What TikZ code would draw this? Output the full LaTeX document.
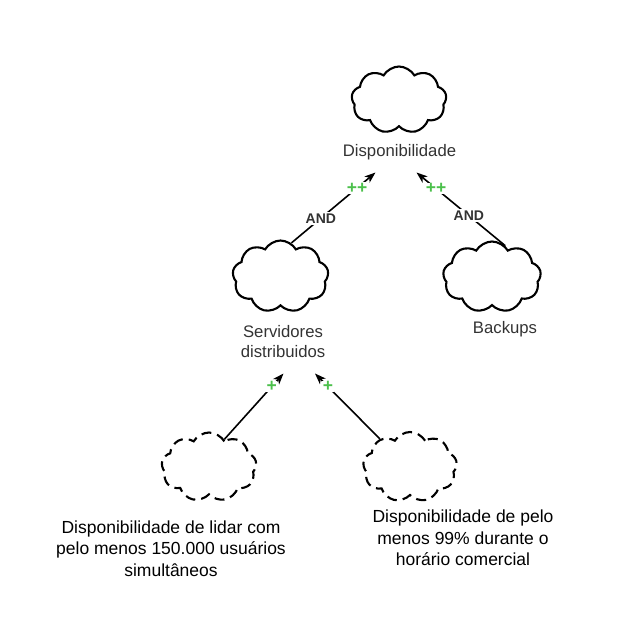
\documentclass[tikz,border=0pt]{standalone}
\usepackage{fontspec}
\setmainfont{Liberation Sans}
\usetikzlibrary{shapes.symbols,arrows.meta}
\definecolor{lbl}{HTML}{333333}
\definecolor{plusgreen}{HTML}{4CC04C}
\tikzset{
  goal/.style={cloud, cloud puffs=9, cloud puff arc=120, aspect=1.4, draw=black, line width=2.1pt, fill=white, inner sep=0pt},
  softgoal/.style={goal, dash pattern=on 10pt off 6pt},
  goallabel/.style={text=lbl, font=\fontsize{16.7}{20}\selectfont, align=center, inner sep=0pt},
  desclabel/.style={text=black, font=\fontsize{17.5}{21.5}\selectfont, align=center, inner sep=0pt},
  contrib/.style={line width=1.6pt, draw=black, -{Stealth[length=11pt,width=8pt,inset=3pt]}},
  andlbl/.style={text=lbl, font=\bfseries\fontsize{14}{14}\selectfont, fill=white, inner sep=1.5pt},
  pluslbl/.style={text=plusgreen, font=\bfseries\fontsize{17.5}{17.5}\selectfont, fill=white, inner sep=0.5pt},
}
\begin{document}
\begin{tikzpicture}[x=1pt,y=-1pt]
\useasboundingbox (0,0) rectangle (630,619);
% clouds
\node[goal, minimum width=95pt, minimum height=67pt] (c1) at (399,100) {};
\node[goal, minimum width=96pt, minimum height=72pt] (c2) at (280.5,276.5) {};
\node[goal, minimum width=98pt, minimum height=71pt] (c3) at (492,277) {};
\node[softgoal, minimum width=95pt, minimum height=69pt] (c4) at (209,467) {};
\node[softgoal, minimum width=94pt, minimum height=70pt] (c5) at (410,467) {};
% labels
\node[goallabel] (l1) at (399.5,152) {Disponibilidade};
\node[goallabel] (l2) at (283,342) {Servidores\\distribuidos};
\node[goallabel] (l3) at (505,329) {Backups};
\node[desclabel] (l4) at (171,548.5) {Disponibilidade de lidar com\\pelo menos 150.000 usuários\\simultâneos};
\node[desclabel] (l5) at (463,538) {Disponibilidade de pelo\\menos 99\% durante o\\horário comercial};
% arrow targets
\coordinate (t1) at (375.5,172.5);
\coordinate (t2) at (416.5,172.5);
\coordinate (t3) at (283.5,373.5);
\coordinate (t4) at (315,373.5);
% connectors
\draw[contrib] (c2.72) -- node[andlbl, pos=0.35] (a1) {AND} node[pluslbl, pos=0.78] (p1) {++} (t1);
\draw[contrib] (c3.67) -- node[andlbl, pos=0.41] (a2) {AND} node[pluslbl, pos=0.78] (p2) {++} (t2);
\draw[contrib] (c4.61) -- node[pluslbl, pos=0.8] (p3) {+} (t3);
\draw[contrib] (c5.137) -- node[pluslbl, pos=0.8] (p4) {+} (t4);
\end{tikzpicture}
\end{document}
